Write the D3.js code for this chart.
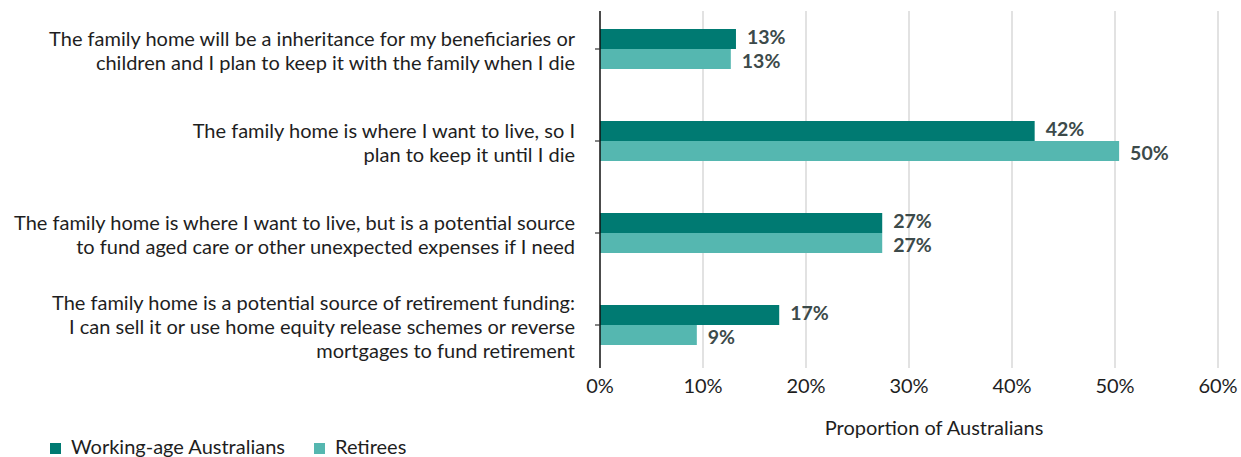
<!DOCTYPE html>
<html>
<head>
<meta charset="utf-8">
<script src="https://cdn.jsdelivr.net/npm/d3@7"></script>
<style>
  html, body { margin: 0; padding: 0; background: #fff; }
  svg { display: block; font-family: Lato, "Noto Sans", sans-serif; }
</style>
</head>
<body>
<svg id="chart" width="1241" height="457"></svg>
<script>
// Attitudes towards the family home, by life stage
const categories = [
  ["The family home will be a inheritance for my beneficiaries or", "children and I plan to keep it with the family when I die"],
  ["The family home is where I want to live, so I", "plan to keep it until I die"],
  ["The family home is where I want to live, but is a potential source", "to fund aged care or other unexpected expenses if I need"],
  ["The family home is a potential source of retirement funding:", "I can sell it or use home equity release schemes or reverse", "mortgages to fund retirement"]
];
const workingAge = [13.2, 42.2, 27.4, 17.4];
const retirees   = [12.7, 50.4, 27.4, 9.4];
const seriesNames = ["Working-age Australians", "Retirees"];
const xTicks = [0, 10, 20, 30, 40, 50, 60];
const xTitle = "Proportion of Australians";

const colors = ["#007A72", "#55B7B0"];
const textColor = "#1e1e1e";
const fontSize = 20;

const svg = d3.select("#chart");
const plotTop = 11, plotBottom = 368;
const x = d3.scaleLinear().domain([0, 60]).range([600, 1218]);
const y = d3.scaleBand().domain(d3.range(categories.length)).range([3, 371]).paddingInner(0);
const barH = 20;

// vertical gridlines
svg.append("g")
  .selectAll("line")
  .data(xTicks.slice(1))
  .join("line")
  .attr("x1", d => x(d)).attr("x2", d => x(d))
  .attr("y1", plotTop).attr("y2", plotBottom)
  .attr("stroke", "#d9d9d9").attr("stroke-width", 1.5);

// bars with value labels (labels eased slightly apart so the pair stays legible)
const series = [workingAge, retirees];
const labelNudge = [-2, 2];
series.forEach((vals, si) => {
  const g = svg.append("g");
  g.selectAll("rect")
    .data(vals)
    .join("rect")
    .attr("x", x(0))
    .attr("y", (d, i) => y(i) + y.bandwidth() / 2 - barH + si * barH)
    .attr("width", d => x(d) - x(0))
    .attr("height", barH)
    .attr("fill", colors[si]);
  g.selectAll("text")
    .data(vals)
    .join("text")
    .attr("x", d => x(d) + 11)
    .attr("y", (d, i) => y(i) + y.bandwidth() / 2 - barH / 2 + si * barH + labelNudge[si])
    .attr("dy", "0.36em")
    .attr("font-size", 19.5)
    .attr("font-weight", 700)
    .attr("fill", "#3c4a4a")
    .text(d => Math.round(d) + "%");
});

// y axis line and category ticks
svg.append("line")
  .attr("x1", x(0)).attr("x2", x(0))
  .attr("y1", plotTop).attr("y2", plotBottom)
  .attr("stroke", "#111").attr("stroke-width", 1.5);
svg.append("g")
  .selectAll("line")
  .data(d3.range(categories.length))
  .join("line")
  .attr("x1", x(0) - 5).attr("x2", x(0))
  .attr("y1", i => y(i) + y.bandwidth() / 2)
  .attr("y2", i => y(i) + y.bandwidth() / 2)
  .attr("stroke", "#333").attr("stroke-width", 1.2);

// category labels
const lineH = 24;
svg.append("g")
  .selectAll("text")
  .data(categories)
  .join("text")
  .attr("text-anchor", "end")
  .attr("font-size", fontSize)
  .attr("fill", textColor)
  .attr("transform", (d, i) => `translate(575, ${y(i) + y.bandwidth() / 2 - (d.length - 1) * lineH / 2 + 2})`)
  .each(function(lines) {
    d3.select(this).selectAll("tspan")
      .data(lines)
      .join("tspan")
      .attr("x", 0)
      .attr("y", (l, j) => j * lineH)
      .attr("dy", "0.35em")
      .text(l => l);
  });

// x axis tick labels
svg.append("g")
  .selectAll("text")
  .data(xTicks)
  .join("text")
  .attr("x", d => x(d))
  .attr("y", 386)
  .attr("dy", "0.35em")
  .attr("text-anchor", "middle")
  .attr("font-size", fontSize)
  .attr("fill", textColor)
  .text(d => d + "%");

// x axis title
svg.append("text")
  .attr("x", 934).attr("y", 428)
  .attr("dy", "0.35em")
  .attr("text-anchor", "middle")
  .attr("font-size", fontSize)
  .attr("fill", textColor)
  .text(xTitle);

// legend
const legendX = [50, 314];
const lg = svg.append("g");
legendX.forEach((lx, i) => {
  lg.append("rect")
    .attr("x", lx).attr("y", 443)
    .attr("width", 11).attr("height", 11)
    .attr("fill", colors[i]);
  lg.append("text")
    .attr("x", lx + 21).attr("y", 447)
    .attr("dy", "0.35em")
    .attr("font-size", fontSize)
    .attr("fill", textColor)
    .text(seriesNames[i]);
});
</script>
</body>
</html>
